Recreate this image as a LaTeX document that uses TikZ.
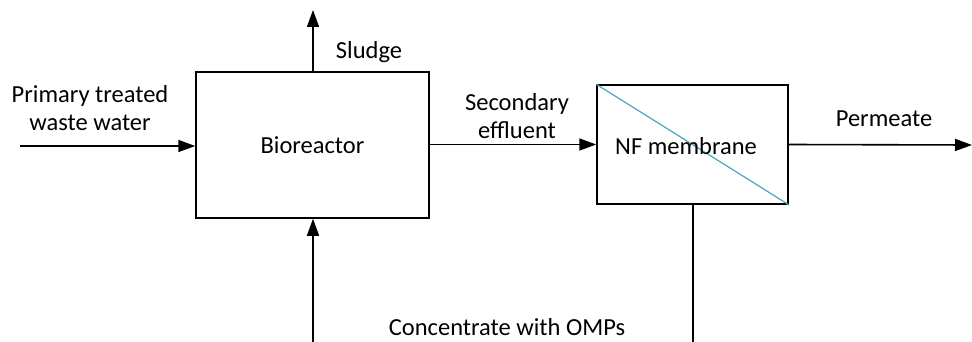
\documentclass[tikz,border=0pt]{standalone}
\usepackage{fontspec}
\setmainfont{Carlito}
\usetikzlibrary{arrows.meta}
\definecolor{teal}{HTML}{4BA7BA}
\begin{document}
\begin{tikzpicture}[x=1pt,y=-1pt,
  lab/.style={font=\fontsize{24.5}{28}\selectfont, align=center, inner sep=0pt},
  blk/.style={draw, line width=1.5pt},
  flow/.style={line width=1.6pt, -{Triangle[length=17pt,width=12pt]}},
  plain/.style={line width=1.6pt}]
\useasboundingbox (0,0) rectangle (972,342);
\node[blk, minimum width=233pt, minimum height=146pt, inner sep=0pt] (bio) at (312.5,145) {};
\node[lab] (biot) at (bio.center) {Bioreactor};
\node[blk, minimum width=191pt, minimum height=119pt, inner sep=0pt] (nf) at (692.5,144.5) {};
\draw[teal, line width=1.2pt] (nf.north west) -- (nf.south east);
\node[lab] (nft) at (686,146) {NF membrane};
\coordinate (in) at (20,146);
\coordinate (sludge) at (313,10);
\coordinate (perm) at (972,145);
\coordinate (botL) at (313,342);
\coordinate (botR) at (693,342);
\draw[flow] (in) -- (in -| bio.west);
\draw[flow] (bio.north -| sludge) -- (sludge);
\draw[flow] (bio.east |- nf.west) -- (nf.west);
\draw[flow] (nf.east) -- (perm);
\draw[flow] (botL) -- (botL |- bio.south);
\draw[plain] (nf.south -| botR) -- (botR);
\node[lab] (t1) at (90,108) {Primary treated\\waste water};
\node[lab] (t2) at (369,52) {Sludge};
\node[lab] (t3) at (517,116) {Secondary\\effluent};
\node[lab] (t4) at (884,119) {Permeate};
\node[lab] (t5) at (507,327) {Concentrate with OMPs};
\end{tikzpicture}
\end{document}
